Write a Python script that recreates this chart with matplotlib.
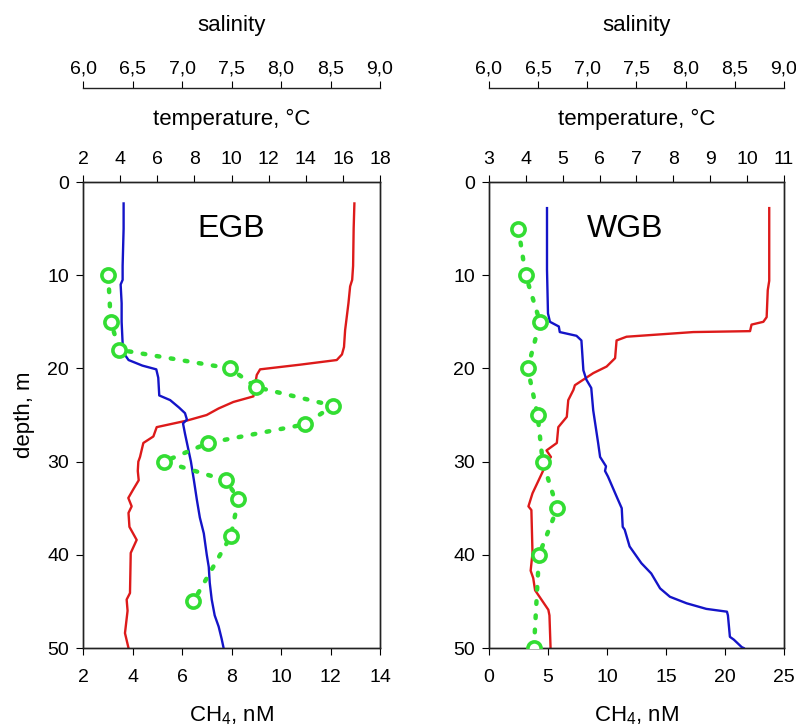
import matplotlib
matplotlib.use("Agg")
import matplotlib.pyplot as plt

plt.rcParams["font.family"] = ["Liberation Sans", "DejaVu Sans"]

# --- data ---
# EGB
egb_sal_depth = [2.3, 5, 9, 10.5, 11, 13, 15, 17.3, 18.5, 19.1, 19.7, 20.1, 21, 22.9, 23.4, 24.2,
                 24.8, 25.5, 25.9, 27, 28, 30, 32, 34.1, 36, 37.7, 40, 41.3, 43, 44.8, 46.5, 47.7, 49, 50]
egb_sal = [6.41, 6.41, 6.40, 6.40, 6.38, 6.39, 6.39, 6.40, 6.42, 6.46, 6.60, 6.74, 6.76, 6.77, 6.88, 6.97,
           7.03, 7.05, 7.01, 7.03, 7.05, 7.09, 7.12, 7.15, 7.18, 7.22, 7.25, 7.27, 7.28, 7.30, 7.33, 7.37, 7.40, 7.42]
egb_temp_depth = [2.3, 5, 9, 10.5, 11.2, 13, 15.9, 17.7, 18.5, 19.1, 19.6, 20.1, 20.7, 22, 23, 23.6, 24.3,
                  25, 25.6, 26.3, 27.3, 28, 29.5, 30, 31, 32, 33, 33.9, 34.8, 35.5, 37, 38.4, 39.8, 42,
                  44.1, 44.8, 46, 48.4, 50]
egb_temp = [16.62, 16.58, 16.55, 16.5, 16.39, 16.3, 16.12, 16.06, 15.95, 15.67, 13.69, 11.54, 11.36, 11.25,
            11.18, 10.1, 9.3, 8.66, 7.59, 5.97, 5.79, 5.25, 5.07, 4.98, 4.95, 5.0, 4.7, 4.44, 4.62, 4.45,
            4.5, 4.89, 4.57, 4.55, 4.53, 4.35, 4.4, 4.26, 4.45]
egb_ch4_depth = [10, 15, 18, 20, 22, 24, 26, 28, 30, 32, 34, 38, 45]
egb_ch4 = [3.02, 3.12, 3.47, 7.94, 8.99, 12.11, 10.97, 7.06, 5.27, 7.76, 8.28, 7.97, 6.46]

# WGB
wgb_sal_depth = [2.8, 9.4, 14.1, 15.0, 15.5, 16.1, 16.5, 17.0, 20.2, 21.2, 22.1, 24.5, 28.0, 29.5, 30.5,
                 31.0, 31.6, 33.8, 35.0, 37.0, 37.3, 39.1, 40.9, 42.0, 43.6, 44.5, 45.2, 45.8, 46.1, 46.5,
                 48.8, 49.1, 49.9, 50]
wgb_sal = [6.59, 6.59, 6.60, 6.62, 6.71, 6.72, 6.89, 6.94, 6.96, 6.99, 7.04, 7.06, 7.11, 7.13, 7.19,
           7.18, 7.21, 7.30, 7.35, 7.36, 7.38, 7.43, 7.55, 7.65, 7.74, 7.84, 8.01, 8.21, 8.42, 8.43,
           8.45, 8.49, 8.57, 8.59]
wgb_temp_depth = [2.8, 10.6, 11.6, 14.5, 15.0, 15.3, 16.0, 16.1, 16.6, 17.0, 18.9, 19.8, 20.5, 21.8, 22.3,
                  23.4, 25.2, 26.3, 28.0, 28.8, 29.5, 30.0, 31.3, 33.4, 34.8, 35.2, 39.8, 41.7, 42.5,
                  43.8, 45.9, 46.5, 50]
wgb_temp = [10.60, 10.60, 10.56, 10.53, 10.44, 10.12, 10.08, 8.54, 6.73, 6.46, 6.42, 6.19, 5.83, 5.33,
            5.29, 5.15, 5.11, 4.88, 4.84, 4.56, 4.68, 4.58, 4.43, 4.18, 4.07, 4.15, 4.18, 4.13, 4.2,
            4.25, 4.61, 4.64, 4.67]
wgb_ch4_depth = [5, 10, 15, 20, 25, 30, 35, 40, 50]
wgb_ch4 = [2.49, 3.11, 4.32, 3.28, 4.12, 4.55, 5.79, 4.24, 3.81]

sal_ticks = [6.0, 6.5, 7.0, 7.5, 8.0, 8.5, 9.0]
sal_labels = ["6,0", "6,5", "7,0", "7,5", "8,0", "8,5", "9,0"]
depth_ticks = [0, 10, 20, 30, 40, 50]

TICK_FS = 14
LABEL_FS = 16


def draw_panel(rect, name, name_x, sal_d, sal, t_d, t, c_d, c, t_ticks, c_ticks, ylabel):
    ax = fig.add_axes(rect)
    ax_t = ax.twiny()
    ax_s = ax.twiny()

    # red temperature, blue salinity, green CH4
    ax_t.plot(t, t_d, color="#dd1a1a", lw=1.7, zorder=2)
    ax_s.plot(sal, sal_d, color="#1414c8", lw=1.7, zorder=3)
    ax.plot(c, c_d, color="#33dd33", lw=3.2, linestyle=(0, (0.6, 2.6)), dash_capstyle="round",
            marker="o", markersize=9.5, markerfacecolor="white", markeredgewidth=2.6,
            markeredgecolor="#33dd33", zorder=4)
    ax.set_zorder(ax_s.get_zorder() + 1)
    ax.patch.set_visible(False)

    ax.set_ylim(50, 0)
    ax.set_yticks(depth_ticks)
    ax.set_xlim(c_ticks[0], c_ticks[-1])
    ax.set_xticks(c_ticks)
    ax.tick_params(axis="x", direction="out", length=5, pad=10, labelsize=TICK_FS)
    ax.tick_params(axis="y", direction="out", length=5, pad=5, labelsize=TICK_FS)
    ax.set_xlabel("CH$_\\mathregular{4}$, nM", fontsize=LABEL_FS, labelpad=13)
    if ylabel:
        ax.set_ylabel("depth, m", fontsize=LABEL_FS, labelpad=9)

    ax_t.set_xlim(t_ticks[0], t_ticks[-1])
    ax_t.set_xticks(t_ticks)
    ax_t.tick_params(axis="x", direction="out", length=5, pad=5, labelsize=TICK_FS)
    ax_t.set_xlabel("temperature, °C", fontsize=LABEL_FS, labelpad=19)

    ax_s.set_xlim(6, 9)
    ax_s.set_xticks(sal_ticks)
    ax_s.set_xticklabels(sal_labels)
    ax_s.spines["top"].set_position(("outward", 68))
    for side in ["left", "right", "bottom"]:
        ax_s.spines[side].set_visible(False)
    ax_s.tick_params(axis="x", direction="out", length=5, pad=2.5, labelsize=TICK_FS)
    ax_s.set_xlabel("salinity", fontsize=LABEL_FS, labelpad=21)

    for a in [ax, ax_t, ax_s]:
        for sp in a.spines.values():
            sp.set_linewidth(1.0)
            sp.set_color("#222222")

    ax.text(name_x, 0.9, name, transform=ax.transAxes, ha="center", va="center", fontsize=23)
    return ax


fig = plt.figure(figsize=(7.96, 7.26), dpi=100)

draw_panel([0.1043, 0.1074, 0.3731, 0.6419], "EGB", 0.5,
           egb_sal_depth, egb_sal, egb_temp_depth, egb_temp, egb_ch4_depth, egb_ch4,
           [2, 4, 6, 8, 10, 12, 14, 16, 18], [2, 4, 6, 8, 10, 12, 14], True)
draw_panel([0.6143, 0.1074, 0.3706, 0.6419], "WGB", 0.46,
           wgb_sal_depth, wgb_sal, wgb_temp_depth, wgb_temp, wgb_ch4_depth, wgb_ch4,
           [3, 4, 5, 6, 7, 8, 9, 10, 11], [0, 5, 10, 15, 20, 25], False)

fig.savefig("out.png", dpi=100)
